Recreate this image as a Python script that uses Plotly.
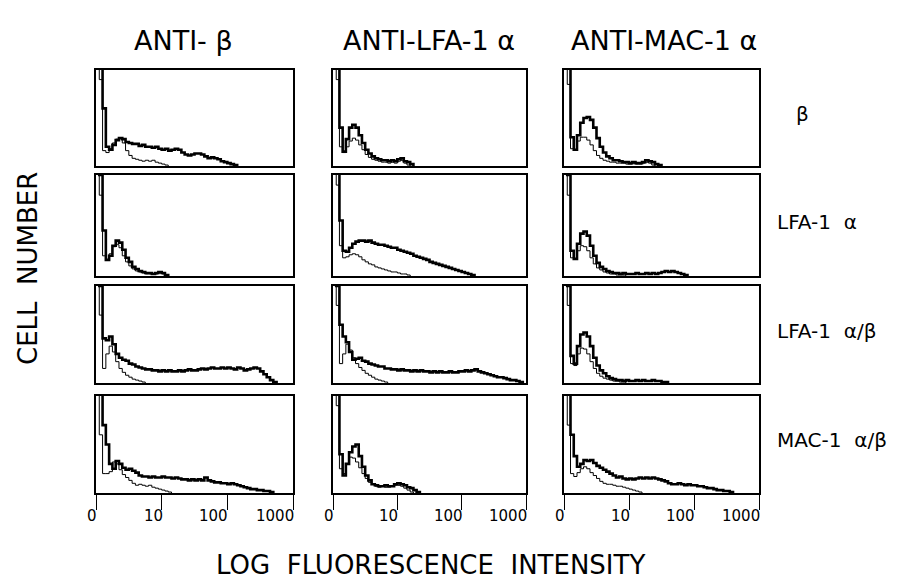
import plotly.graph_objects as go

# ---------------- data ----------------
COLUMN_TITLES = ["ANTI- β", "ANTI-LFA-1 α", "ANTI-MAC-1 α"]
ROW_LABELS = ["β", "LFA-1\u00a0\u00a0α", "LFA-1\u00a0\u00a0α/β", "MAC-1\u00a0\u00a0α/β"]
TICK_VALS = [0, 1, 2, 3]            # log10 fluorescence
TICK_TEXT = ["0", "10", "100", "1000"]
BIN_WIDTH = 0.05                    # channel width in decades

# row 1 : beta transfectant
R1C1_STAIN = [140, 110, 60, 20, 17, 22, 27, 29, 28, 25, 24, 23, 23, 21, 22, 20, 20, 19, 20, 18, 17, 18, 16, 17, 18, 17, 14, 12, 11, 12, 13, 13, 12, 10, 8, 9, 8, 7, 5, 4, 3, 2, 1, 0]
R1C1_CTRL = [140, 90, 16, 14, 18, 24, 28, 29, 24, 16, 11, 8, 7, 6, 5, 6, 5, 6, 4, 3, 2, 1, 0]
R1C2_STAIN = [140, 110, 40, 15, 28, 40, 43, 40, 32, 24, 17, 13, 10, 8, 7, 6, 6, 5, 6, 5, 7, 8, 5, 4, 2, 0]
R1C2_CTRL = [140, 90, 20, 14, 20, 26, 29, 27, 22, 17, 12, 9, 7, 6, 5, 4, 4, 3, 4, 3, 5, 6, 3, 1, 0]
R1C3_STAIN = [140, 105, 30, 17, 32, 45, 50, 51, 48, 40, 29, 20, 14, 10, 8, 6, 6, 5, 4, 4, 3, 4, 3, 3, 4, 6, 5, 4, 2, 1, 0]
R1C3_CTRL = [140, 85, 18, 17, 26, 30, 30, 27, 22, 16, 11, 8, 6, 5, 4, 4, 3, 3, 3, 2, 2, 3, 2, 2, 3, 4, 3, 1, 0]

# row 2 : LFA-1 alpha transfectant
R2C1_STAIN = [140, 100, 45, 16, 20, 30, 35, 33, 26, 18, 14, 9, 7, 5, 4, 3, 3, 2, 3, 4, 3, 1, 0]
R2C1_CTRL = [140, 80, 20, 16, 22, 29, 31, 28, 20, 14, 10, 7, 5, 4, 3, 2, 2, 2, 2, 3, 2, 0]
R2C2_STAIN = [140, 110, 55, 25, 24, 28, 32, 34, 35, 35, 34, 35, 33, 32, 31, 31, 30, 29, 28, 28, 26, 25, 24, 23, 22, 20, 19, 18, 17, 16, 14, 13, 12, 11, 10, 9, 8, 7, 6, 5, 4, 3, 2, 1, 0]
R2C2_CTRL = [140, 90, 30, 18, 19, 21, 22, 21, 19, 16, 14, 12, 11, 9, 8, 7, 6, 5, 4, 4, 3, 2, 2, 1, 0]
R2C3_STAIN = [140, 100, 25, 17, 32, 42, 44, 40, 30, 20, 13, 9, 7, 5, 4, 3, 3, 2, 3, 2, 2, 2, 3, 2, 2, 3, 2, 3, 2, 3, 4, 5, 4, 5, 4, 3, 2, 1, 0]
R2C3_CTRL = [140, 80, 18, 17, 25, 30, 29, 25, 18, 12, 8, 6, 4, 3, 2, 2, 1, 1, 1, 0]

# row 3 : LFA-1 alpha/beta transfectant
R3C1_STAIN = [140, 100, 46, 44, 48, 40, 30, 26, 24, 23, 20, 19, 17, 16, 15, 14, 14, 13, 13, 12, 13, 12, 13, 12, 12, 13, 12, 13, 14, 13, 13, 14, 15, 14, 15, 16, 15, 15, 16, 15, 16, 15, 14, 16, 15, 13, 14, 15, 16, 15, 12, 9, 6, 3, 1, 0]
R3C1_CTRL = [140, 70, 15, 30, 38, 32, 22, 15, 11, 8, 6, 4, 3, 2, 1, 0]
R3C2_STAIN = [140, 100, 60, 48, 42, 32, 24, 25, 26, 23, 22, 20, 19, 18, 17, 17, 15, 15, 14, 14, 13, 14, 13, 13, 12, 13, 12, 13, 12, 12, 11, 12, 11, 12, 11, 11, 12, 11, 11, 12, 12, 13, 12, 13, 14, 12, 11, 10, 9, 8, 7, 6, 6, 5, 4, 3, 3, 2, 1, 0]
R3C2_CTRL = [140, 80, 20, 30, 40, 34, 26, 20, 16, 13, 10, 8, 6, 4, 3, 2, 1, 0]
R3C3_STAIN = [140, 100, 28, 20, 38, 50, 52, 48, 38, 26, 18, 13, 10, 7, 5, 4, 3, 3, 2, 3, 2, 2, 3, 2, 3, 2, 2, 3, 2, 2, 1, 1, 0]
R3C3_CTRL = [140, 80, 20, 18, 30, 36, 35, 30, 22, 15, 10, 7, 5, 4, 3, 2, 2, 1, 1, 0]

# row 4 : MAC-1 alpha/beta transfectant
R4C1_STAIN = [140, 110, 70, 50, 30, 25, 33, 30, 26, 24, 25, 23, 21, 18, 17, 17, 16, 17, 16, 16, 17, 16, 16, 15, 16, 15, 14, 14, 13, 14, 13, 14, 13, 16, 13, 12, 11, 11, 10, 10, 9, 10, 9, 8, 7, 6, 5, 4, 4, 3, 3, 2, 2, 1, 0]
R4C1_CTRL = [140, 60, 20, 20, 22, 32, 30, 24, 19, 16, 13, 10, 8, 9, 8, 7, 8, 6, 5, 4, 3, 2, 1, 0]
R4C2_STAIN = [140, 120, 40, 18, 30, 42, 48, 50, 38, 27, 18, 13, 9, 8, 7, 7, 8, 7, 7, 9, 10, 9, 8, 6, 5, 3, 1, 0]
R4C2_CTRL = [140, 90, 25, 20, 30, 37, 36, 32, 26, 20, 15, 11, 9, 7, 6, 7, 6, 6, 7, 8, 8, 7, 5, 3, 1, 0]
R4C3_STAIN = [140, 110, 60, 38, 27, 30, 34, 33, 34, 31, 28, 26, 24, 22, 20, 18, 16, 17, 15, 14, 15, 14, 15, 16, 15, 16, 15, 16, 15, 14, 13, 12, 10, 9, 9, 10, 9, 8, 9, 8, 8, 7, 7, 6, 5, 5, 4, 3, 3, 2, 2, 1, 0]
R4C3_CTRL = [140, 70, 20, 17, 21, 25, 27, 25, 21, 18, 15, 12, 10, 9, 9, 8, 7, 7, 6, 5, 4, 3, 2, 1, 0]

PANELS = [
    [(R1C1_STAIN, R1C1_CTRL), (R1C2_STAIN, R1C2_CTRL), (R1C3_STAIN, R1C3_CTRL)],
    [(R2C1_STAIN, R2C1_CTRL), (R2C2_STAIN, R2C2_CTRL), (R2C3_STAIN, R2C3_CTRL)],
    [(R3C1_STAIN, R3C1_CTRL), (R3C2_STAIN, R3C2_CTRL), (R3C3_STAIN, R3C3_CTRL)],
    [(R4C1_STAIN, R4C1_CTRL), (R4C2_STAIN, R4C2_CTRL), (R4C3_STAIN, R4C3_CTRL)],
]

# ---------------- layout ----------------
W, H = 904, 581
COL_PX = [(88, 285), (325, 518), (556, 751)]
ROW_PX = [(62, 158), (167, 268), (278, 375), (388, 485)]
FONT = "DejaVu Sans"


def px_x(p):
    return p / W


def px_y(p):
    return 1 - p / H


fig = go.Figure()
layout = dict(
    width=W, height=H,
    margin=dict(l=0, r=0, t=0, b=0),
    paper_bgcolor="white", plot_bgcolor="white",
    showlegend=False,
    font=dict(family=FONT, color="black"),
)
annotations = []

idx = 0
for r in range(4):
    for c in range(3):
        idx += 1
        xa = "x" if idx == 1 else f"x{idx}"
        ya = "y" if idx == 1 else f"y{idx}"
        stain, ctrl = PANELS[r][c]
        for vals, width in ((ctrl, 1.0), (stain, 2.6)):
            xs = [i * BIN_WIDTH for i in range(len(vals))]
            fig.add_trace(go.Scatter(
                x=xs, y=vals, mode="lines", xaxis=xa, yaxis=ya,
                line=dict(color="black", width=width, shape="hv"),
                hoverinfo="skip",
            ))
        bottom = r == 3
        layout["xaxis" if idx == 1 else f"xaxis{idx}"] = dict(
            domain=[px_x(COL_PX[c][0]), px_x(COL_PX[c][1])],
            range=[0, 3.0], anchor=ya,
            showline=True, mirror=True, linecolor="black", linewidth=1.6,
            showgrid=False, zeroline=False, showticklabels=False,
            ticks="outside" if bottom else "", ticklen=15, tickwidth=1.4,
            tickcolor="black", tickvals=TICK_VALS,
        )
        layout["yaxis" if idx == 1 else f"yaxis{idx}"] = dict(
            domain=[px_y(ROW_PX[r][1]), px_y(ROW_PX[r][0])],
            range=[0, 100], anchor=xa,
            showline=True, mirror=True, linecolor="black", linewidth=1.6,
            showgrid=False, zeroline=False, showticklabels=False, ticks="",
        )
        if bottom:
            for tv, tt in zip(TICK_VALS, TICK_TEXT):
                annotations.append(dict(
                    x=tv, xref=xa, y=px_y(508), yref="paper",
                    text=tt, showarrow=False, xanchor="right", yanchor="middle",
                    xshift=3, font=dict(family=FONT, size=15, color="black"),
                ))

# column titles
for c, (t, cx) in enumerate(zip(COLUMN_TITLES, [175, 421, 656])):
    annotations.append(dict(
        x=px_x(cx), xref="paper", y=px_y(32), yref="paper", text=t,
        showarrow=False, xanchor="center", yanchor="middle",
        font=dict(family=FONT, size=27, color="black"),
    ))

# row labels
for r, lab in enumerate(ROW_LABELS):
    cy = (ROW_PX[r][0] + ROW_PX[r][1]) / 2 - 4
    lx = 786 if r == 0 else 767
    annotations.append(dict(
        x=px_x(lx), xref="paper", y=px_y(cy), yref="paper", text=lab,
        showarrow=False, xanchor="left", yanchor="middle",
        font=dict(family=FONT, size=20, color="black"),
    ))

# axis titles
annotations.append(dict(
    x=px_x(20), xref="paper", y=px_y(261), yref="paper", text="CELL\u00a0\u00a0NUMBER",
    showarrow=False, textangle=-90, xanchor="center", yanchor="middle",
    font=dict(family=FONT, size=26, color="black"),
))
annotations.append(dict(
    x=px_x(422), xref="paper", y=px_y(557), yref="paper", text="LOG\u00a0\u00a0FLUORESCENCE\u00a0\u00a0INTENSITY",
    showarrow=False, xanchor="center", yanchor="middle",
    font=dict(family=FONT, size=26, color="black"),
))

layout["annotations"] = annotations
fig.update_layout(**layout)
fig.write_html("out.html")
